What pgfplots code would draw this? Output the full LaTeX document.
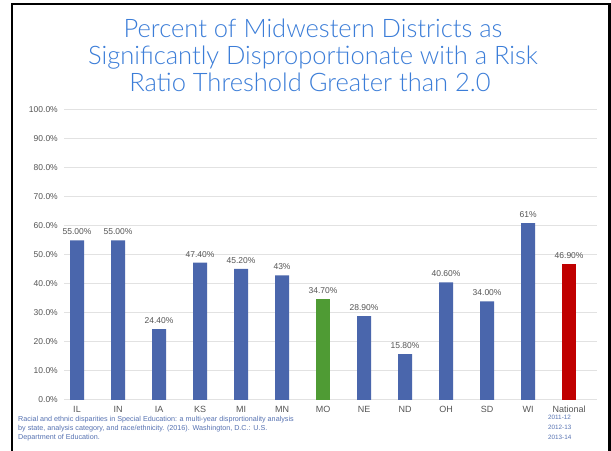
\documentclass[border=0pt]{standalone}
\usepackage{pgfplots}
\pgfplotsset{compat=1.18}
\usepackage{pgfplotstable}
\usepackage{fontspec}
\setmainfont{Liberation Sans}
\newfontfamily\titlefont{Lato Light}
\definecolor{barblue}{RGB}{74,102,172}
\definecolor{bargreen}{RGB}{79,155,52}
\definecolor{barred}{RGB}{192,0,0}
\definecolor{titleblue}{RGB}{59,125,216}
\definecolor{srcblue}{RGB}{86,114,178}
\definecolor{gridgray}{RGB}{226,226,226}
\definecolor{ticklab}{RGB}{85,85,85}

\pgfplotstableread{
x y lab
0 55 55.00
1 55 55.00
2 24.4 24.40
3 47.4 47.40
4 45.2 45.20
5 43 43
7 28.9 28.90
8 15.8 15.80
9 40.6 40.60
10 34 34.00
11 61 61
}\bluedata
\pgfplotstableread{
x y lab
6 34.7 34.70
}\greendata
\pgfplotstableread{
x y lab
12 46.9 46.90
}\reddata

\begin{document}
\begin{tikzpicture}
\path[use as bounding box, fill=white] (0bp,0bp) rectangle (611bp,451bp);
\draw[line width=2.5bp] (12bp,0bp) -- (12bp,447bp) -- (609.5bp,447bp) -- (609.5bp,0bp);

\begin{scope}[every node/.style={anchor=base, text=titleblue, font=\titlefont\fontsize{25.5bp}{27bp}\selectfont}]
\node at (313bp,413bp) {Percent of Midwestern Districts as};
\node at (313bp,386bp) {Significantly Disproportionate with a Risk};
\node at (310bp,359bp) {Ratio Threshold Greater than 2.0};
\end{scope}

\begin{axis}[
  at={(64bp,51bp)}, anchor=south west,
  scale only axis, width=533bp, height=290bp,
  xmin=-0.317, xmax=12.68, ymin=0, ymax=100,
  axis line style={draw=none},
  major tick length=0pt,
  ymajorgrids, grid style={gridgray, line width=1bp},
  ytick={0,10,...,100},
  yticklabels={0.0\%,10.0\%,20.0\%,30.0\%,40.0\%,50.0\%,60.0\%,70.0\%,80.0\%,90.0\%,100.0\%},
  xtick={0,...,12},
  xticklabels={IL,IN,IA,KS,MI,MN,MO,NE,ND,OH,SD,WI,National},
  yticklabel style={anchor=east, inner sep=0pt, xshift=-6bp, text=ticklab, font=\fontsize{8.5bp}{10bp}\selectfont},
  xticklabel style={anchor=base, inner sep=0pt, yshift=-13bp, text=ticklab, font=\fontsize{9bp}{10bp}\selectfont},
  /pgf/number format/assume math mode=true,
  ybar, bar width=14bp,
  clip=false,
  point meta=explicit symbolic,
  nodes near coords={\pgfplotspointmeta\%},
  every node near coord/.append style={anchor=base, inner sep=0pt, yshift=5.5bp, text=ticklab, font=\fontsize{8.5bp}{10bp}\selectfont},
]
\addplot[fill=barblue, draw=none, bar shift=0pt] table[x=x, y=y, meta=lab] {\bluedata};
\addplot[fill=bargreen, draw=none, bar shift=0pt] table[x=x, y=y, meta=lab] {\greendata};
\addplot[fill=barred, draw=none, bar shift=0pt] table[x=x, y=y, meta=lab] {\reddata};
\end{axis}

\begin{scope}[every node/.style={anchor=base west, inner sep=0pt, text=srcblue, font=\fontsize{7.2bp}{8bp}\selectfont}]
\node at (18bp,29.5bp) {Racial and ethnic disparities in Special Education: a multi-year disprortionality analysis};
\node at (18bp,20.5bp) {by state, analysis category, and race/ethnicity. (2016). Washington, D.C.: U.S.};
\node at (18bp,11.5bp) {Department of Education.};
\end{scope}
\begin{scope}[every node/.style={anchor=base west, inner sep=0pt, text=srcblue, font=\fontsize{6.3bp}{7bp}\selectfont}]
\node at (548bp,31.5bp) {2011-12};
\node at (548bp,21.5bp) {2012-13};
\node at (548bp,12bp) {2013-14};
\end{scope}
\end{tikzpicture}
\end{document}
